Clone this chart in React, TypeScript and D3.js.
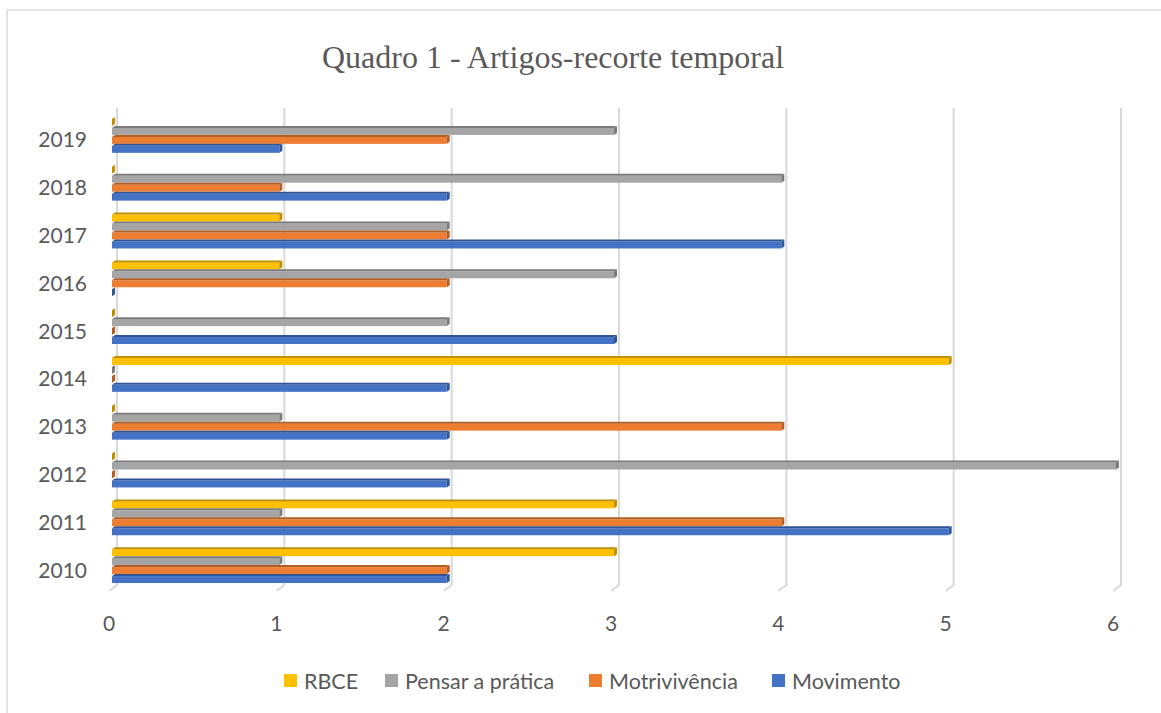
import React from "react";
import * as d3 from "d3";

const years = ["2010", "2011", "2012", "2013", "2014", "2015", "2016", "2017", "2018", "2019"];
const seriesNames = ["RBCE", "Pensar a prática", "Motrivivência", "Movimento"];
const rbce = [3, 3, 0, 0, 5, 0, 1, 1, 0, 0];
const pensar = [1, 1, 6, 1, 0, 2, 3, 2, 4, 3];
const motri = [2, 4, 0, 4, 0, 0, 2, 2, 1, 2];
const movimento = [2, 5, 2, 2, 2, 3, 0, 4, 2, 1];
const xTicks = [0, 1, 2, 3, 4, 5, 6];
const title = "Quadro 1 - Artigos-recorte temporal";

const colors = ["#FFC000", "#A5A5A5", "#ED7D31", "#4472C4"];
const darkColors = ["#BF9000", "#7B7B7B", "#B35E24", "#2F5597"];
const seriesValues = [rbce, pensar, motri, movimento];

const W = 1161;
const H = 713;

export default function App() {
  const x = d3.scaleLinear().domain([0, 6]).range([112, 1116]);
  // top to bottom: 2019 ... 2010
  const yOrder = [...years].reverse();
  const y = d3.scaleBand().domain(yOrder).range([111, 589]).paddingInner(0.25).paddingOuter(0.125);
  const inner = d3.scaleBand().domain(seriesNames).range([0, y.bandwidth()]);
  const dx = 3;
  const dy = 2;

  const legendX = [284, 385, 589, 772];

  return (
    <svg width={W} height={H} style={{ position: "absolute", left: 0, top: 0, background: "#fff" }}>
      <rect x={7} y={10} width={W + 10} height={H + 10} fill="#fff" stroke="#D9D9D9" strokeWidth={1.5} />
      <text x={553} y={68} textAnchor="middle" fontFamily="'Liberation Serif', 'Times New Roman', serif" fontSize={32} fill="#595959">
        {title}
      </text>
      {/* gridlines on back wall with floor diagonal */}
      {xTicks.map((t) => (
        <g key={"g" + t}>
          <polyline
            points={`${x(t) + 5},108 ${x(t) + 5},585 ${x(t) - 3},591`}
            fill="none"
            stroke="#D9D9D9"
            strokeWidth={2}
          />
        </g>
      ))}
      {/* bars */}
      {yOrder.map((yr) => {
        const yi = years.indexOf(yr);
        return (
          <g key={yr}>
            {seriesNames.map((s, si) => {
              const v = seriesValues[si][yi];
              const x0 = x(0);
              const xv = x(v);
              const by = (y(yr) as number) + (inner(s) as number);
              const bh = inner.bandwidth();
              return (
                <g key={s}>
                  <rect x={x0} y={by + dy} width={xv - x0} height={bh - dy} fill={colors[si]} />
                  <polygon
                    points={`${x0},${by + dy} ${x0 + dx},${by} ${xv + dx},${by} ${xv},${by + dy}`}
                    fill={darkColors[si]}
                  />
                  <polygon
                    points={`${xv},${by + dy} ${xv + dx},${by} ${xv + dx},${by + bh - dy} ${xv},${by + bh}`}
                    fill={darkColors[si]}
                  />
                </g>
              );
            })}
          </g>
        );
      })}
      {/* year labels */}
      {yOrder.map((yr) => (
        <text
          key={"l" + yr}
          x={87}
          y={(y(yr) as number) + y.bandwidth() / 2 + 4}
          textAnchor="end"
          dominantBaseline="central"
          fontFamily="Lato, 'Open Sans', sans-serif"
          fontSize={21}
          fill="#595959"
        >
          {yr}
        </text>
      ))}
      {/* x tick labels */}
      {xTicks.map((t) => (
        <text
          key={"t" + t}
          x={x(t) - 3}
          y={622}
          textAnchor="middle"
          dominantBaseline="central"
          fontFamily="Lato, 'Open Sans', sans-serif"
          fontSize={21}
          fill="#595959"
        >
          {t}
        </text>
      ))}
      {/* legend */}
      {seriesNames.map((s, si) => (
        <g key={"lg" + s}>
          <rect x={legendX[si]} y={674} width={13} height={13} fill={colors[si]} />
          <text
            x={legendX[si] + 20}
            y={681}
            dominantBaseline="central"
            fontFamily="Lato, 'Open Sans', sans-serif"
            fontSize={21.5}
            fill="#595959"
          >
            {s}
          </text>
        </g>
      ))}
    </svg>
  );
}
